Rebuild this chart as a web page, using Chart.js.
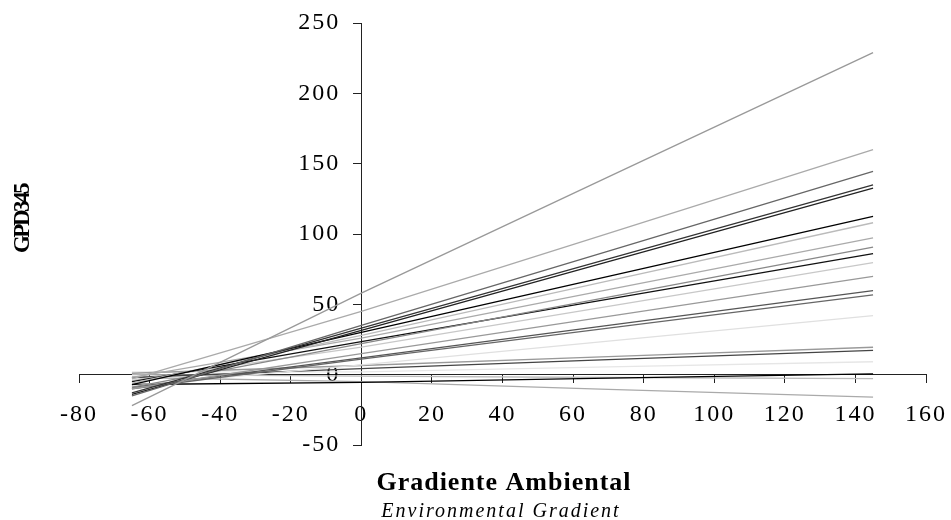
<!DOCTYPE html>
<html>
<head>
<meta charset="utf-8">
<script src="https://cdn.jsdelivr.net/npm/chart.js@4"></script>
<style>
  html, body { margin: 0; padding: 0; background: #fff; }
  #wrap { width: 951px; height: 520px; }
</style>
</head>
<body>
<div id="wrap"><canvas id="c" width="951" height="520"></canvas></div>
<script>
// Gradient positions where each regression line is sampled
const gradientX = [-65, 0, 70, 145];

// GPD345 values of each line at those gradient positions
const line01 = [-22, 58, 140.6, 229];
const line02 = [-3, 45, 100.5, 160];
const line03 = [-15, 35, 87.9, 144.5];
const line04 = [-13, 33, 82.3, 135];
const line05 = [-14, 31.5, 80.3, 132.6];
const line06 = [-7, 30, 69.8, 112.5];
const line07 = [-6, 28, 66.6, 108];
const line08 = [-2, 26, 60.4, 97.2];
const line09 = [-9, 22, 55.2, 90.7];
const line10 = [-5, 23.5, 53.7, 86];
const line11 = [-4, 19.6, 48.6, 79.6];
const line12 = [-10, 15, 41.5, 69.8];
const line13 = [-9, 12, 35, 59.7];
const line14 = [-10, 11, 33.1, 56.7];
const line15 = [-8, 7, 23.9, 42];
const line16 = [1, 6.5, 12.8, 19.5];
const line17 = [-2, 4.3, 10.7, 17.3];
const line18 = [2, 2, 5.5, 9.2];
const line19 = [-7, -5.5, -2.5, 0.5];
const line20 = [0, -1, -2, -2.8];
const line21 = [-2, -5, -10.5, -16];

const allLines = [line01, line02, line03, line04, line05, line06, line07, line08, line09, line10,
  line11, line12, line13, line14, line15, line16, line17, line18, line19, line20, line21];
const lineColors = ['#999999', '#aaaaaa', '#666666', '#333333', '#222222', '#000000', '#bbbbbb',
  '#aaaaaa', '#888888', '#111111', '#c8c8c8', '#999999', '#555555', '#666666', '#e0e0e0',
  '#999999', '#444444', '#e6e6e6', '#000000', '#bbbbbb', '#aaaaaa'];

// Axis ticks
const xMin = -80, xMax = 160, xStep = 20;
const yMin = -50, yMax = 250, yStep = 50;

const yTitle = 'GPD345';
const xTitle = 'Gradiente Ambiental';
const xSubtitle = 'Environmental Gradient';

const datasets = allLines.map((vals, i) => ({
  label: 'L' + (i + 1),
  data: gradientX.map((x, j) => ({ x: x, y: vals[j] })),
  borderColor: lineColors[i],
  borderWidth: 1.3,
  pointRadius: 0,
  tension: 0,
  fill: false
}));

const textPlugin = {
  id: 'texts',
  afterLayout(chart) {
    const s = chart.scales.y;
    if (s && !s._shifted) {
      const orig = s.drawLabels.bind(s);
      s.drawLabels = function (area) {
        const ctx = this.ctx;
        ctx.save();
        ctx.translate(-21, 0);
        orig(area);
        ctx.restore();
      };
      s._shifted = true;
    }
  },
  beforeDraw(chart) {
    chart.ctx.letterSpacing = '2px';
  },
  afterDraw(chart) {
    const ctx = chart.ctx;
    ctx.save();
    ctx.fillStyle = '#000';
    // y title
    ctx.save();
    ctx.letterSpacing = '-2.5px';
    ctx.font = 'bold 23px "Liberation Serif"';
    ctx.textAlign = 'center';
    ctx.textBaseline = 'middle';
    ctx.translate(23, 219);
    ctx.rotate(-Math.PI / 2);
    ctx.fillText(yTitle, 0, 0);
    ctx.restore();
    // x title
    ctx.letterSpacing = '1px';
    ctx.font = 'bold 26px "Liberation Serif"';
    ctx.textAlign = 'center';
    ctx.textBaseline = 'alphabetic';
    ctx.fillText(xTitle, 504, 490);
    ctx.letterSpacing = '2px';
    ctx.font = 'italic 20px "Liberation Serif"';
    ctx.fillText(xSubtitle, 501, 517);
    ctx.restore();
    ctx.letterSpacing = '0px';
  }
};

new Chart(document.getElementById('c'), {
  type: 'line',
  data: { datasets },
  plugins: [textPlugin],
  options: {
    responsive: false,
    animation: false,
    events: [],
    layout: { padding: { left: 79, right: 25, top: 23, bottom: 75 } },
    plugins: { legend: { display: false }, tooltip: { enabled: false } },
    scales: {
      x: {
        type: 'linear',
        min: xMin, max: xMax,
        position: { y: 0 },
        afterFit(s) { s.height = 0; s.paddingLeft = 0; s.paddingRight = 0; },
        border: { display: true, color: '#222', width: 1 },
        grid: { display: true, drawOnChartArea: false, drawTicks: true, tickLength: 8, color: '#222' },
        ticks: {
          stepSize: xStep, padding: 18, color: '#000',
          font: { family: 'Liberation Serif', size: 24 },
          maxRotation: 0, autoSkip: false
        }
      },
      y: {
        type: 'linear',
        min: yMin, max: yMax,
        position: { x: 0 },
        afterFit(s) { s.width = 0; s.paddingTop = 0; s.paddingBottom = 0; },
        border: { display: true, color: '#222', width: 1 },
        grid: { display: true, drawOnChartArea: false, drawTicks: true, tickLength: 8, color: '#222' },
        ticks: {
          stepSize: yStep, padding: 14, color: '#000',
          font: { family: 'Liberation Serif', size: 24 }
        }
      }
    }
  }
});
</script>
</body>
</html>
